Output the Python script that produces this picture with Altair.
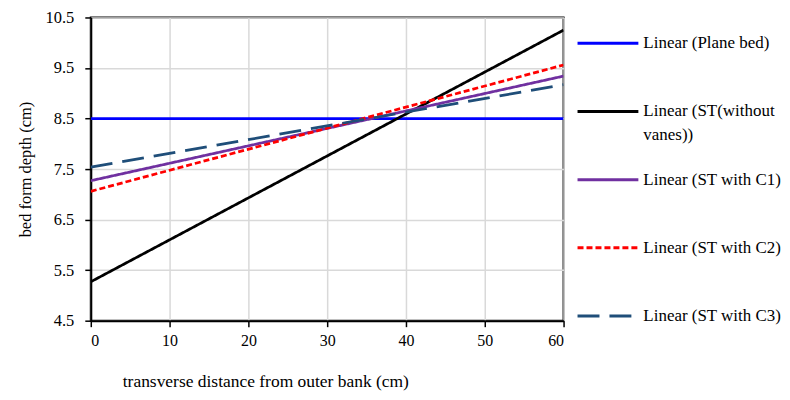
import altair as alt
import pandas as pd

# ---- data ----
series = ["Linear (Plane bed)", "Linear (ST(without vanes))", "Linear (ST with C1)",
          "Linear (ST with C2)", "Linear (ST with C3)"]
x_start = [0, 0, 0, 0, 0]
x_end = [60, 60, 60, 60, 60]
y_start = [8.5, 5.27, 7.27, 7.06, 7.54]
y_end = [8.5, 10.25, 9.34, 9.56, 9.17]
legend_line1 = ["Linear (Plane bed)", "Linear (ST(without", "Linear (ST with C1)",
                "Linear (ST with C2)", "Linear (ST with C3)"]
legend_line2 = ["", "vanes))", "", "", ""]
colors = ["#0000FF", "#000000", "#7030A0", "#FF0000", "#1F4E79"]
dashes = [[1, 0], [1, 0], [1, 0], [6, 3], [22, 10]]
x_ticks = [0, 10, 20, 30, 40, 50, 60]
y_ticks = [4.5, 5.5, 6.5, 7.5, 8.5, 9.5, 10.5]

rows = []
for i, s in enumerate(series):
    rows.append({"series": s, "order": i, "x": x_start[i], "y": y_start[i]})
    rows.append({"series": s, "order": i, "x": x_end[i], "y": y_end[i]})
lines_df = pd.DataFrame(rows)

leg_df = pd.DataFrame({
    "series": series,
    "idx": list(range(len(series))),
    "l1": legend_line1,
    "l2": legend_line2,
    "x0": [1] * len(series),
    "x1": [62] * len(series),
    "xt": [67] * len(series),
})

FONT = "Liberation Serif"
color_scale = alt.Scale(domain=series, range=colors)
dash_scale = alt.Scale(domain=series, range=dashes)

main = alt.Chart(lines_df).mark_line(strokeWidth=2.75, clip=True).encode(
    x=alt.X("x:Q", scale=alt.Scale(domain=[0, 60], nice=False),
            axis=alt.Axis(values=x_ticks, title="transverse distance from  outer bank (cm)",
                          grid=True, gridColor="#D9D9D9", gridWidth=1.5,
                          domainColor="black", domainWidth=2, tickColor="black", tickSize=6,
                          tickWidth=1.5, labelFont=FONT, labelFontSize=16, labelColor="black",
                          labelPadding=6, titleFont=FONT, titleFontSize=17.5,
                          titleFontWeight="normal", titleColor="black",
                          titleX=175, titleY=52, titleAlign="center")),
    y=alt.Y("y:Q", scale=alt.Scale(domain=[4.5, 10.5], nice=False, zero=False),
            axis=alt.Axis(values=y_ticks, format=".1f", title="bed form depth (cm)",
                          grid=True, gridColor="#D9D9D9", gridWidth=1.5,
                          domainColor="black", domainWidth=2, tickColor="black", tickSize=6,
                          tickWidth=1.5, labelFont=FONT, labelFontSize=16.5, labelColor="black",
                          labelPadding=11, titleFont=FONT, titleFontSize=16.5,
                          titleFontWeight="normal", titleColor="black", titlePadding=12)),
    color=alt.Color("series:N", scale=color_scale, legend=None),
    strokeDash=alt.StrokeDash("series:N", scale=dash_scale, legend=None),
    order=alt.Order("order:Q"),
).properties(width=474, height=304, view=alt.ViewBackground(stroke="black", strokeWidth=2))

ly = alt.Y("idx:Q", scale=alt.Scale(domain=[-0.38, 4.07], reverse=True, nice=False, zero=False),
           axis=None)
leg_rules = alt.Chart(leg_df).mark_rule(strokeWidth=3).encode(
    x=alt.X("x0:Q", scale=alt.Scale(domain=[0, 200], nice=False), axis=None),
    x2="x1:Q",
    y=ly,
    color=alt.Color("series:N", scale=color_scale, legend=None),
    strokeDash=alt.StrokeDash("series:N", scale=dash_scale, legend=None),
)
leg_text1 = alt.Chart(leg_df).mark_text(align="left", baseline="middle", font=FONT,
                                        fontSize=17, color="black").encode(
    x=alt.X("xt:Q", scale=alt.Scale(domain=[0, 200], nice=False), axis=None),
    y=ly,
    text="l1:N",
)
leg_text2 = alt.Chart(leg_df).mark_text(align="left", baseline="middle", font=FONT,
                                        fontSize=17, color="black", dy=24).encode(
    x=alt.X("xt:Q", scale=alt.Scale(domain=[0, 200], nice=False), axis=None),
    y=ly,
    text="l2:N",
)
legend = alt.layer(leg_rules, leg_text1, leg_text2).properties(
    width=200, height=304, view=alt.ViewBackground(stroke=None))

chart = alt.hconcat(main, legend, spacing=10).configure_view(strokeWidth=0).configure(
    padding={"left": 8, "top": 0, "right": 0, "bottom": 0}, background="white",
    font=FONT).configure_text(font=FONT)

chart.save("out.html", embed_options={"renderer": "svg", "actions": False})
